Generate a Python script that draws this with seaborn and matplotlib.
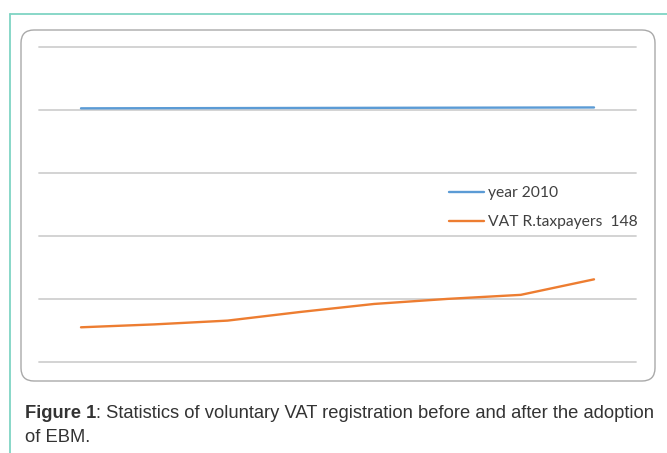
import matplotlib.pyplot as plt
import pandas as pd
import seaborn as sns
from matplotlib.lines import Line2D
from matplotlib.patches import FancyBboxPatch

# data (one grid step = 500)
periods = [2010, 2011, 2012, 2013, 2014, 2015, 2016, 2017]
year_values = [2010, 2011, 2012, 2013, 2014, 2015, 2016, 2017]
taxpayer_values = [275, 298, 328, 397, 460, 500, 532, 655]
series_names = ["year 2010", "VAT R.taxpayers  148"]
grid_values = [0, 500, 1000, 1500, 2000, 2500]
caption_bold = "Figure 1"
caption_line1 = ": Statistics of voluntary VAT registration before and after the adoption"
caption_line2 = "of EBM."

df = pd.DataFrame({
    "period": periods * 2,
    "value": year_values + taxpayer_values,
    "series": [series_names[0]] * len(periods) + [series_names[1]] * len(periods),
})

sns.set_style("white")
plt.rcParams["font.family"] = ["Liberation Sans", "DejaVu Sans"]

W, H = 667, 453
fig = plt.figure(figsize=(W / 100, H / 100), dpi=100)


def fx(px):
    return px / W


def fy(py):
    return 1 - py / H


# outer teal frame (top and left edges only)
teal = "#7fd4c4"
fig.add_artist(Line2D([fx(10), 1], [fy(14), fy(14)], color=teal, lw=1.3, transform=fig.transFigure))
fig.add_artist(Line2D([fx(10), fx(10)], [fy(14), 0], color=teal, lw=1.3, transform=fig.transFigure))

# rounded chart area border, in inches so the corners stay round
box = FancyBboxPatch(
    (21 / 100, (H - 381) / 100), (655 - 21) / 100, (381 - 30) / 100,
    boxstyle="round,pad=0,rounding_size=0.13",
    transform=fig.dpi_scale_trans, facecolor="white", edgecolor="#a9a9a9", lw=1.0,
    zorder=-1,
)
fig.add_artist(box)

ax = fig.add_axes([fx(39), fy(362), fx(636) - fx(39), fy(46.5) - fy(362)])
ax.set_zorder(1)
ax.set_facecolor("none")
sns.lineplot(data=df, x="period", y="value", hue="series",
             palette=["#5b9bd5", "#ed7d31"], linewidth=1.7, ax=ax, legend=True)

pad = 0.573
ax.set_xlim(periods[0] - pad, periods[-1] + pad)
ax.set_ylim(grid_values[0], grid_values[-1])
ax.set_yticks(grid_values)
ax.set_xticks([])
ax.yaxis.grid(True, color="#d0d0d0", linewidth=1.3)
ax.set_axisbelow(True)
for gl in ax.get_ygridlines():
    gl.set_clip_on(False)
ax.tick_params(left=False, labelleft=False, bottom=False)
for s in ax.spines.values():
    s.set_visible(False)
ax.set_xlabel("")
ax.set_ylabel("")

handles, labels = ax.get_legend_handles_labels()
leg = ax.legend(handles, labels, loc="center left",
                bbox_to_anchor=(fx(449), fy(207.8)), bbox_transform=fig.transFigure,
                frameon=False, prop={"family": ["Lato", "DejaVu Sans"], "size": 11.25},
                handlelength=2.24, handletextpad=0.26, labelspacing=0.98,
                borderpad=0, borderaxespad=0)
for t in leg.get_texts():
    t.set_color("#404040")

# caption with bold lead-in
cap_color = "#333333"
cap_size = 13.25
t1 = fig.text(fx(25), fy(417.5), caption_bold, fontsize=cap_size, weight="bold",
              color=cap_color, va="baseline", ha="left")
fig.canvas.draw()
bb = t1.get_window_extent()
fig.text(bb.x1 / fig.bbox.width, fy(417.5), caption_line1, fontsize=cap_size,
         color=cap_color, va="baseline", ha="left")
fig.text(fx(25), fy(442), caption_line2, fontsize=cap_size,
         color=cap_color, va="baseline", ha="left")

fig.savefig("out.png", dpi=100)
